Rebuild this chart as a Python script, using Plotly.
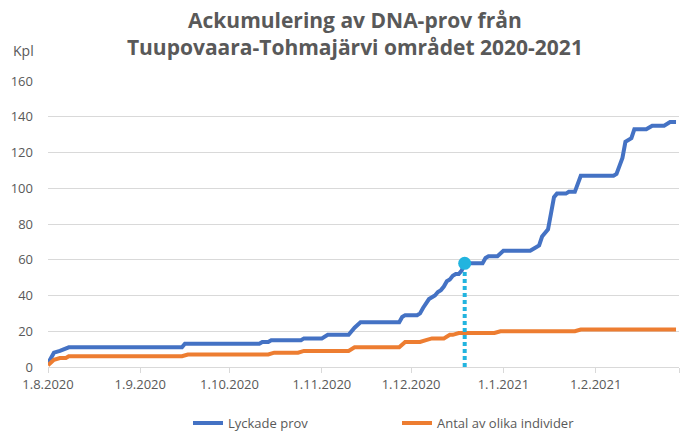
import plotly.graph_objects as go

# ---- data ----
blue_dates = [
    "2020-08-01", "2020-08-03", "2020-08-05", "2020-08-07", "2020-08-08",
    "2020-09-15", "2020-09-16", "2020-10-11", "2020-10-12", "2020-10-14",
    "2020-10-15", "2020-10-25", "2020-10-26", "2020-11-01", "2020-11-03",
    "2020-11-10", "2020-11-12", "2020-11-14", "2020-11-27", "2020-11-28",
    "2020-11-29", "2020-12-03", "2020-12-04", "2020-12-05", "2020-12-06",
    "2020-12-07", "2020-12-08", "2020-12-09", "2020-12-10", "2020-12-11",
    "2020-12-12", "2020-12-13", "2020-12-14", "2020-12-15", "2020-12-16",
    "2020-12-17", "2020-12-18", "2020-12-19", "2020-12-25", "2020-12-26",
    "2020-12-27", "2020-12-30", "2021-01-01", "2021-01-10", "2021-01-12",
    "2021-01-13", "2021-01-14", "2021-01-15", "2021-01-16", "2021-01-17",
    "2021-01-18", "2021-01-19", "2021-01-22", "2021-01-23", "2021-01-25",
    "2021-01-27", "2021-02-07", "2021-02-08", "2021-02-09", "2021-02-10",
    "2021-02-11", "2021-02-12", "2021-02-13", "2021-02-14", "2021-02-18",
    "2021-02-19", "2021-02-20", "2021-02-24", "2021-02-26", "2021-02-28",
]
blue_values = [
    2, 8, 9, 10, 11,
    11, 13, 13, 14, 14,
    15, 15, 16, 16, 18,
    18, 22, 25, 25, 28,
    29, 29, 30, 33, 36,
    38, 39, 40, 42, 43,
    45, 48, 49, 51, 52,
    52, 54, 58, 58, 61,
    62, 62, 65, 65, 67,
    68, 73, 75, 77, 86,
    95, 97, 97, 98, 98,
    107, 107, 108, 113, 117,
    126, 127, 128, 133, 133,
    134, 135, 135, 137, 137,
]

orange_dates = [
    "2020-08-01", "2020-08-03", "2020-08-05", "2020-08-07", "2020-08-08",
    "2020-09-15", "2020-09-17", "2020-10-14", "2020-10-16", "2020-10-24",
    "2020-10-26", "2020-11-10", "2020-11-12", "2020-11-27", "2020-11-29",
    "2020-12-04", "2020-12-06", "2020-12-08", "2020-12-12", "2020-12-14",
    "2020-12-15", "2020-12-17", "2020-12-29", "2020-12-31", "2021-01-25",
    "2021-01-27", "2021-02-28",
]
orange_values = [
    1, 4, 5, 5, 6,
    6, 7, 7, 8, 8,
    9, 9, 11, 11, 14,
    14, 15, 16, 16, 18,
    18, 19, 19, 20, 20,
    21, 21,
]

marker_date = "2020-12-19"
marker_value = 58

x_tick_vals = ["2020-08-01", "2020-09-01", "2020-10-01", "2020-11-01",
               "2020-12-01", "2021-01-01", "2021-02-01", "2021-03-01"]
x_tick_text = ["1.8.2020", "1.9.2020", "1.10.2020", "1.11.2020",
               "1.12.2020", "1.1.2021", "1.2.2021", ""]

series_names = ["Lyckade prov", "Antal av olika individer"]
title_lines = ["Ackumulering av DNA-prov från",
               "Tuupovaara-Tohmajärvi området 2020-2021"]
y_unit = "Kpl"

# ---- styling ----
BLUE = "#4472C4"
ORANGE = "#ED7D31"
CYAN = "#22B4DF"
GREY_TXT = "#595959"
GRID = "#D9D9D9"
FONT = "Open Sans"

fig = go.Figure()
fig.add_trace(go.Scatter(x=blue_dates, y=blue_values, mode="lines",
                         name=series_names[0],
                         line=dict(color=BLUE, width=4)))
fig.add_trace(go.Scatter(x=orange_dates, y=orange_values, mode="lines",
                         name=series_names[1],
                         line=dict(color=ORANGE, width=4)))
fig.add_trace(go.Scatter(x=[marker_date, marker_date], y=[0, marker_value],
                         mode="lines", showlegend=False, hoverinfo="skip",
                         line=dict(color=CYAN, width=4, dash="4px,3px")))
fig.add_trace(go.Scatter(x=[marker_date], y=[marker_value], mode="markers",
                         showlegend=False,
                         marker=dict(color=CYAN, size=13)))

fig.update_layout(
    width=700, height=436, autosize=False,
    margin=dict(l=48, r=21, t=81, b=69, autoexpand=False),
    paper_bgcolor="white", plot_bgcolor="white",
    font=dict(family=FONT, color=GREY_TXT, size=13),
    title=dict(text="<br>".join(title_lines),
               font=dict(family=FONT, size=21, color=GREY_TXT, weight="bold"),
               x=0.507, xanchor="center", xref="container",
               y=1 - 28 / 436, yanchor="top", yref="container"),
    xaxis=dict(type="date", range=["2020-08-01", "2021-03-01"],
               tickmode="array", tickvals=x_tick_vals, ticktext=x_tick_text,
               showgrid=False, zeroline=False,
               showline=True, linecolor=GRID, linewidth=1,
               ticks="outside", ticklen=5, tickcolor=GRID, tickwidth=1,
               tickfont=dict(size=13, color=GREY_TXT)),
    yaxis=dict(range=[0, 160], dtick=20, tick0=0,
               showgrid=True, gridcolor=GRID, gridwidth=1,
               zeroline=False, showline=False, ticks="",
               ticklabelstandoff=14,
               tickfont=dict(size=13, color=GREY_TXT)),
    legend=dict(orientation="h", x=0.2219, xanchor="left",
                y=-0.196, yanchor="middle",
                entrywidth=164, entrywidthmode="pixels",
                font=dict(size=13, color=GREY_TXT)),
    annotations=[dict(text=y_unit, xref="paper", yref="paper",
                      x=-0.0594, y=1.108, xanchor="left", yanchor="middle",
                      showarrow=False, font=dict(size=14, color=GREY_TXT))],
)

fig.write_html("out.html")
